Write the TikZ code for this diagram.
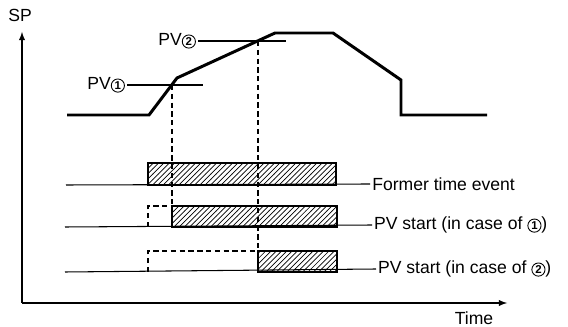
\documentclass[tikz,border=0pt]{standalone}
\usepackage{fontspec}
\setmainfont{Liberation Sans}
\usetikzlibrary{patterns}
\newcommand{\pvnum}[1]{\tikz[baseline=(n.base)]\node[draw,circle,inner sep=0pt,minimum size=7.5pt,line width=0.5pt,font=\fontsize{6.5}{7}\selectfont\bfseries](n){#1};}
\tikzset{
  profile/.style={line width=1.7pt,line join=miter},
  event/.style={draw,line width=0.7pt,pattern=north east lines},
  guide/.style={line width=0.6pt,dash pattern=on 3pt off 2pt},
  lbl/.style={inner sep=1pt,font=\fontsize{10}{12}\selectfont}
}
\begin{document}
\begin{tikzpicture}[x=0.02cm,y=-0.02cm,line width=0.6pt]
\useasboundingbox (0,0) rectangle (568,327);

\node[lbl] (sp) at (20,15) {SP};
\node[lbl] (time) at (474,318) {Time};
\coordinate (o) at (22,303);
\draw[-latex] (o) -- (22,32);
\draw[-latex] (o) -- (507,303);

\draw[profile] (67,115) -- (149,115) -- (177,78) -- (275,33) -- (333,33)
  -- (401,80) -- (401,115) -- (487,115);

\node[lbl,anchor=east] (pv1) at (127,85) {PV\pvnum{1}};
\coordinate (c1) at (172,85);
\draw (pv1.east) -- (203,85);
\node[lbl,anchor=east] (pv2) at (198,41) {PV\pvnum{2}};
\coordinate (c2) at (258,41);
\draw (pv2.east) -- (286,41);

\node[lbl,anchor=west] (ev) at (370,184) {Former time event};
\draw (66,185) -- (ev.west);
\draw[event] (148,163) rectangle (336,185);

\node[lbl,anchor=west] (st1) at (372,225) {PV start (in case of \pvnum{1})};
\draw (65,227) -- (st1.west);
\draw[event] (172,206) rectangle (337,227);
\draw[guide] (148,227) -- (148,206) -- (172,206);

\node[lbl,anchor=west] (st2) at (376,269) {PV start (in case of \pvnum{2})};
\draw (65,272) -- (st2.west);
\draw[event] (258,251) rectangle (337,272);
\draw[guide] (148,272) -- (148,251) -- (258,251);

\draw[guide] (c1) -- (172,206);
\draw[guide] (c2) -- (258,251);
\end{tikzpicture}
\end{document}
